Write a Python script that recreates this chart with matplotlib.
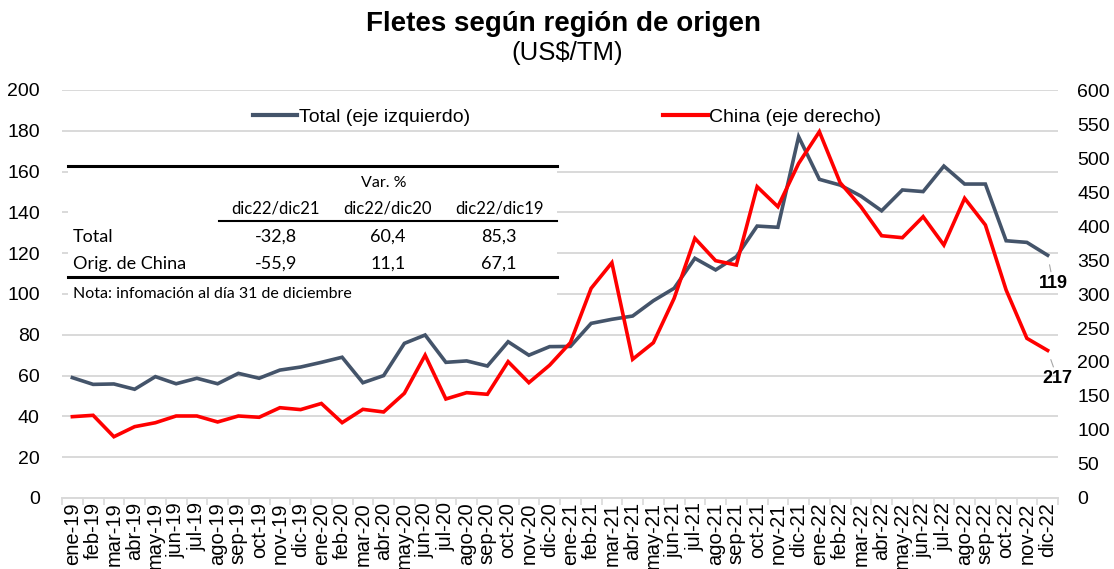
import matplotlib
matplotlib.use("Agg")
import matplotlib.pyplot as plt
from matplotlib.patches import Rectangle
from matplotlib.lines import Line2D
import numpy as np

# ---------------- data ----------------
months = ["ene-19","feb-19","mar-19","abr-19","may-19","jun-19","jul-19","ago-19","sep-19","oct-19","nov-19","dic-19",
          "ene-20","feb-20","mar-20","abr-20","may-20","jun-20","jul-20","ago-20","sep-20","oct-20","nov-20","dic-20",
          "ene-21","feb-21","mar-21","abr-21","may-21","jun-21","jul-21","ago-21","sep-21","oct-21","nov-21","dic-21",
          "ene-22","feb-22","mar-22","abr-22","may-22","jun-22","jul-22","ago-22","sep-22","oct-22","nov-22","dic-22"]

total = [59, 55.7, 55.9, 53.3, 59.5, 56, 58.7, 56, 61.1, 58.7, 62.7, 64.2,
         66.5, 69, 56.5, 60, 75.8, 79.9, 66.5, 67.2, 64.7, 76.6, 70, 74.2,
         74.3, 85.6, 87.6, 89.2, 96.7, 102.8, 117.5, 111.8, 118.3, 133.3, 132.7, 177.1,
         156.2, 153.4, 148, 140.8, 151, 150.2, 162.7, 153.9, 153.9, 126.1, 125.3, 119]

china = [119.6, 121.6, 90.1, 104.9, 110.7, 120.6, 120.6, 111.8, 120.6, 118.7, 132.8, 130,
         139, 110.8, 130.4, 126.5, 154, 210, 145.6, 154.9, 152.5, 200.5, 169.6, 195.3,
         228.4, 308.3, 346, 204, 228.4, 293.6, 381.9, 349, 342.6, 457.8, 428.4, 492,
         538.7, 463.7, 428.4, 385.7, 382.8, 413.7, 372, 440.7, 401.5, 305.9, 234.8, 217]

series_names = ["Total (eje izquierdo)", "China (eje derecho)"]

table_header = "Var. %"
table_cols = ["dic22/dic21", "dic22/dic20", "dic22/dic19"]
table_rows = ["Total", "Orig. de China"]
table_vals = [["-32,8", "60,4", "85,3"],
              ["-55,9", "11,1", "67,1"]]
table_note = "Nota: infomación al día 31 de diciembre"

last_total_label = "119"
last_china_label = "217"

# ---------------- style ----------------
W, H = 1114, 569
C_TOTAL = "#44546A"
C_CHINA = "#FF0000"
GRID = "#D9D9D9"
SANS = ["Liberation Sans", "DejaVu Sans"]
NARROW = ["Liberation Sans Narrow", "Liberation Sans", "DejaVu Sans"]
TABF = ["Lato", "DejaVu Sans"]

plt.rcParams["font.family"] = SANS

def fx(x):
    return x / W

def fy(y):
    return 1 - y / H

fig = plt.figure(figsize=(W / 100, H / 100), dpi=100)
ax = fig.add_axes([fx(62), fy(498), fx(1058) - fx(62), fy(90) - fy(498)])
ax2 = ax.twinx()

x = np.arange(len(months))
ax.plot(x, total, color=C_TOTAL, lw=2.6, solid_joinstyle="miter", zorder=3)
ax2.plot(x, china, color=C_CHINA, lw=2.6, solid_joinstyle="miter", zorder=3)

ax.set_xlim(-0.5, len(months) - 0.5)
ax.set_ylim(0, 200)
ax2.set_ylim(0, 600)
ax.set_yticks(np.arange(0, 201, 20))
ax2.set_yticks(np.arange(0, 601, 50))
ax.yaxis.grid(True, color=GRID, lw=1.4)
ax.set_axisbelow(True)

ax.set_xticks(x)
ax.set_xticklabels(months, rotation=90, fontsize=14.5)
ax.set_xticks(np.arange(-0.5, len(months), 1), minor=True)
ax.tick_params(axis="x", which="major", length=0, pad=3)
ax.tick_params(axis="x", which="minor", length=5, color=GRID, width=1.2)
ax.tick_params(axis="y", length=0, labelsize=14, pad=16)
ax2.tick_params(axis="y", length=0, labelsize=14, pad=14)

for a in (ax, ax2):
    for s in ("left", "right", "top"):
        a.spines[s].set_visible(False)
    a.spines["bottom"].set_color(GRID)
    a.spines["bottom"].set_linewidth(1.4)
ax2.spines["bottom"].set_visible(False)

# end-value labels with leader lines
ax.annotate(last_total_label, xy=(x[-1], total[-1]), xytext=(4, -20), textcoords="offset points",
            ha="center", va="center", fontsize=13, fontweight="bold",
            arrowprops=dict(arrowstyle="-", color="#A6A6A6", lw=0.8, shrinkA=0, shrinkB=7))
ax2.annotate(last_china_label, xy=(x[-1], china[-1]), xytext=(7, -20), textcoords="offset points",
             ha="center", va="center", fontsize=13, fontweight="bold",
             arrowprops=dict(arrowstyle="-", color="#A6A6A6", lw=0.8, shrinkA=0, shrinkB=7))

# legend
handles = [Line2D([], [], color=C_TOTAL, lw=3), Line2D([], [], color=C_CHINA, lw=3)]
fig.legend(handles, series_names, loc="center", bbox_to_anchor=(fx(567), fy(117)), ncol=2,
           frameon=False, fontsize=14, handlelength=2.3, handletextpad=0.1, columnspacing=9.9)

# title
fig.text(fx(564), fy(24), "Fletes según región de origen", ha="center", va="center",
         fontsize=20, fontweight="bold", family=NARROW)
fig.text(fx(567), fy(53), "(US$/TM)", ha="center", va="center", fontsize=18.5, family=NARROW)

# table overlay
fig.patches.append(Rectangle((fx(68), fy(305)), fx(557) - fx(68), fy(158) - fy(305),
                             transform=fig.transFigure, facecolor="white", edgecolor="none", zorder=5))
fig.lines.append(Line2D([fx(68), fx(557)], [fy(166), fy(166)], transform=fig.transFigure,
                        color="black", lw=2.2, zorder=6))
fig.lines.append(Line2D([fx(219), fx(557)], [fy(221), fy(221)], transform=fig.transFigure,
                        color="black", lw=1.5, zorder=6))
fig.lines.append(Line2D([fx(68), fx(557)], [fy(277), fy(277)], transform=fig.transFigure,
                        color="black", lw=2.2, zorder=6))

col_x = [276, 388, 499]
fig.text(fx(384), fy(183), table_header, ha="center", va="center", fontsize=11.5, family=TABF, zorder=7)
for cx, c in zip(col_x, table_cols):
    fig.text(fx(cx), fy(209), c, ha="center", va="center", fontsize=12, family=TABF, zorder=7)
row_y = [237, 264]
for ry, rname, vals in zip(row_y, table_rows, table_vals):
    fig.text(fx(73), fy(ry), rname, ha="left", va="center", fontsize=13, family=TABF, zorder=7)
    for cx, v in zip(col_x, vals):
        fig.text(fx(cx), fy(ry), v, ha="center", va="center", fontsize=13, family=TABF, zorder=7)
fig.text(fx(73), fy(294), table_note, ha="left", va="center", fontsize=11.5, family=TABF, zorder=7)

fig.savefig("out.png", dpi=100)
